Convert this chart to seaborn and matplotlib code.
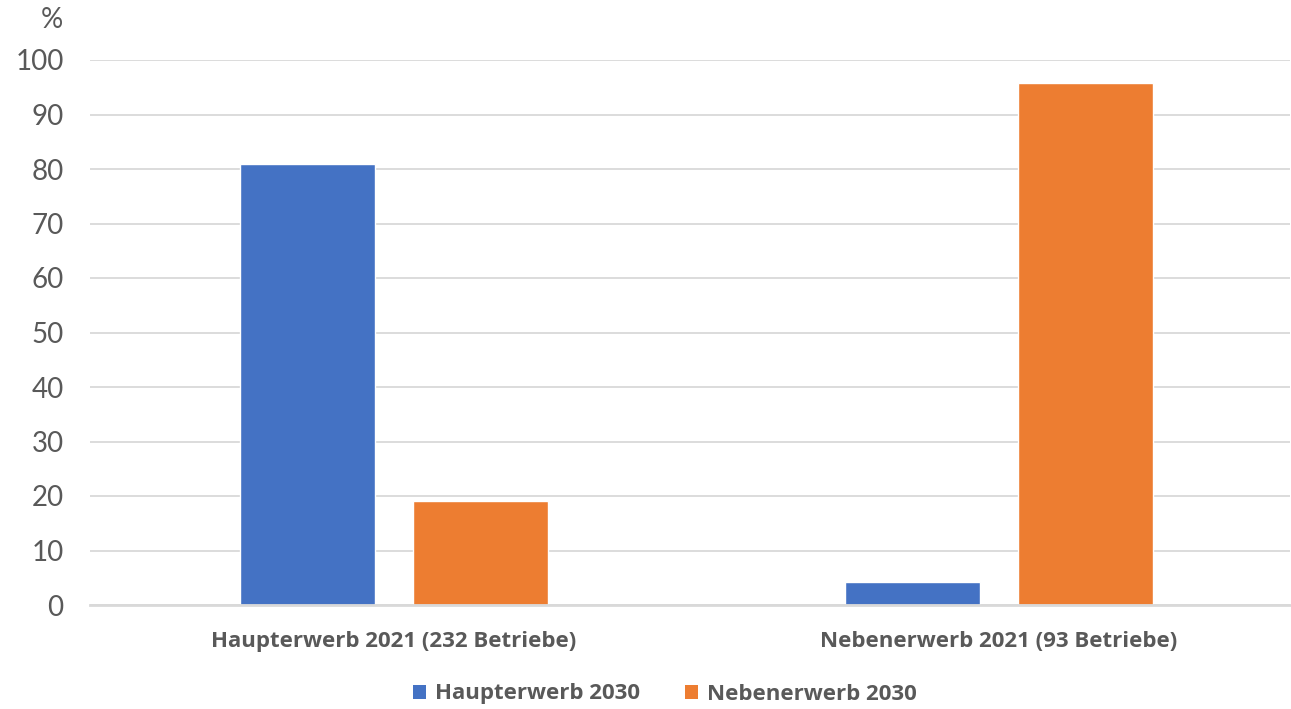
import matplotlib
matplotlib.use("Agg")
import matplotlib.pyplot as plt
import seaborn as sns
import pandas as pd
from matplotlib.patches import Patch

categories = ["Haupterwerb 2021 (232 Betriebe)", "Nebenerwerb 2021 (93 Betriebe)"]
series_names = ["Haupterwerb 2030", "Nebenerwerb 2030"]
haupt_2030 = [81.0, 4.3]
neben_2030 = [19.0, 95.7]
y_ticks = [0, 10, 20, 30, 40, 50, 60, 70, 80, 90, 100]

colors = ["#4472C4", "#ED7D31"]
text_color = "#595959"
grid_color = "#D9D9D9"

df = pd.DataFrame({
    "Kategorie": categories * 2,
    "Serie": [series_names[0]] * 2 + [series_names[1]] * 2,
    "Anteil": haupt_2030 + neben_2030,
})

sns.set_theme(style="white")
plt.rcParams["font.family"] = ["Lato", "DejaVu Sans"]
bold_family = ["Open Sans", "DejaVu Sans"]

fig = plt.figure(figsize=(12.91, 7.09), dpi=100)
ax = fig.add_axes([90 / 1291, 1 - 605 / 709, 1200 / 1291, 545 / 709])

sns.barplot(data=df, x="Kategorie", y="Anteil", hue="Serie", order=categories,
            hue_order=series_names, palette=colors, width=0.572, gap=0.22,
            saturation=1, errorbar=None, ax=ax, legend=False, zorder=3)

ax.set_ylim(0, 100)
ax.set_xlim(-0.5025, 1.481)
ax.set_yticks(y_ticks)
ax.set_yticklabels([str(t) for t in y_ticks], fontsize=20, color=text_color)
ax.tick_params(axis="y", length=0, pad=19)
ax.tick_params(axis="x", length=0, pad=19)
for lbl in ax.get_xticklabels():
    lbl.set_fontsize(16)
    lbl.set_fontweight("bold")
    lbl.set_family(bold_family)
    lbl.set_color(text_color)
ax.set_xlabel("")
ax.set_ylabel("")
ax.grid(axis="y", color=grid_color, linewidth=1.3, zorder=0)
ax.grid(axis="x", visible=False)
for side in ["top", "right", "left"]:
    ax.spines[side].set_visible(False)
ax.spines["bottom"].set_color(grid_color)
ax.spines["bottom"].set_linewidth(2)
ax.spines["bottom"].set_zorder(4)

fig.text(52 / 1291, 1 - 20 / 709, "%", fontsize=20, color=text_color,
         ha="center", va="center")

handles = [Patch(facecolor=c, edgecolor="none") for c in colors]
fig.legend(handles, series_names, loc="center", bbox_to_anchor=(0.515, 1 - 694 / 709),
           ncol=2, frameon=False, handlelength=0.6, handleheight=0.6,
           handletextpad=0.4, columnspacing=2.0,
           prop={"size": 16, "weight": "bold", "family": bold_family},
           labelcolor=text_color)

fig.savefig("out.png", dpi=100)
